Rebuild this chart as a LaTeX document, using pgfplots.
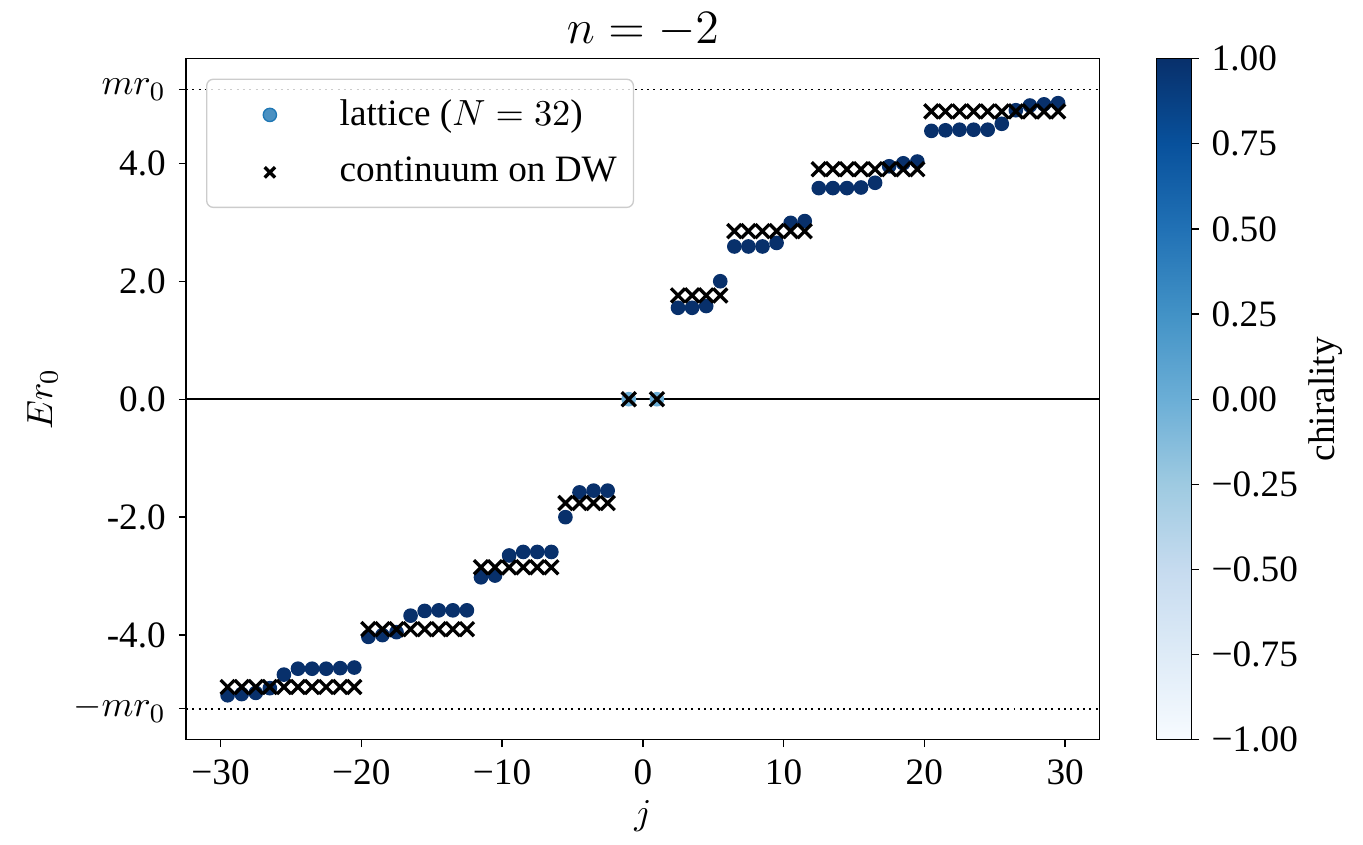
\documentclass[border=0pt]{standalone}
\usepackage{fontspec}
\setmainfont{Liberation Serif}
\usepackage{pgfplots}
\usepackage{pgfplotstable}
\pgfplotsset{compat=1.18}
\definecolor{c0}{HTML}{1F77B4}
\pgfplotsset{
  colormap={blues}{rgb255(0)=(247,251,255) rgb255(1)=(222,235,247) rgb255(2)=(198,219,239)
    rgb255(3)=(158,202,225) rgb255(4)=(107,174,214) rgb255(5)=(66,146,198)
    rgb255(6)=(33,113,181) rgb255(7)=(8,81,156) rgb255(8)=(8,48,107)},
  markleg/.style={legend image code/.code={\path[draw=none, fill=none] (0pt,-2pt) rectangle (35pt,2pt);
    \draw[##1] plot coordinates {(16pt,0pt)};}},
  crossleg/.style={legend image code/.code={\path[draw=none, fill=none] (0pt,-2pt) rectangle (35pt,2pt);
    \draw[##1, mark size=2.2pt] plot coordinates {(16pt,0pt)};}},
}

% lattice spectrum: j, E r0, chirality
\pgfplotstableread{
j E c
-29.5 -5.02 1
-28.5 -5.00 1
-27.5 -4.98 1
-26.5 -4.90 1
-25.5 -4.67 1
-24.5 -4.57 1
-23.5 -4.57 1
-22.5 -4.57 1
-21.5 -4.56 1
-20.5 -4.55 1
-19.5 -4.03 1
-18.5 -4.00 1
-17.5 -3.95 1
-16.5 -3.67 1
-15.5 -3.59 1
-14.5 -3.58 1
-13.5 -3.58 1
-12.5 -3.58 1
-11.5 -3.02 1
-10.5 -2.99 1
-9.5 -2.65 1
-8.5 -2.59 1
-7.5 -2.59 1
-6.5 -2.59 1
-5.5 -2.00 1
-4.5 -1.58 1
-3.5 -1.55 1
-2.5 -1.55 1
-1 0 0
1 0 0
2.5 1.55 1
3.5 1.55 1
4.5 1.58 1
5.5 2.00 1
6.5 2.59 1
7.5 2.59 1
8.5 2.59 1
9.5 2.65 1
10.5 2.99 1
11.5 3.02 1
12.5 3.58 1
13.5 3.58 1
14.5 3.58 1
15.5 3.59 1
16.5 3.67 1
17.5 3.95 1
18.5 4.00 1
19.5 4.03 1
20.5 4.55 1
21.5 4.56 1
22.5 4.57 1
23.5 4.57 1
24.5 4.57 1
25.5 4.67 1
26.5 4.90 1
27.5 4.98 1
28.5 5.00 1
29.5 5.02 1
}\lattice

% continuum spectrum on the domain wall
\pgfplotstableread{
j E
-29.5 -4.88
-28.5 -4.88
-27.5 -4.88
-26.5 -4.88
-25.5 -4.88
-24.5 -4.88
-23.5 -4.88
-22.5 -4.88
-21.5 -4.88
-20.5 -4.88
-19.5 -3.90
-18.5 -3.90
-17.5 -3.90
-16.5 -3.90
-15.5 -3.90
-14.5 -3.90
-13.5 -3.90
-12.5 -3.90
-11.5 -2.85
-10.5 -2.85
-9.5 -2.85
-8.5 -2.85
-7.5 -2.85
-6.5 -2.85
-5.5 -1.76
-4.5 -1.76
-3.5 -1.76
-2.5 -1.76
-1 0
1 0
2.5 1.76
3.5 1.76
4.5 1.76
5.5 1.76
6.5 2.85
7.5 2.85
8.5 2.85
9.5 2.85
10.5 2.85
11.5 2.85
12.5 3.90
13.5 3.90
14.5 3.90
15.5 3.90
16.5 3.90
17.5 3.90
18.5 3.90
19.5 3.90
20.5 4.88
21.5 4.88
22.5 4.88
23.5 4.88
24.5 4.88
25.5 4.88
26.5 4.88
27.5 4.88
28.5 4.88
29.5 4.88
}\continuum

\begin{document}
\fontsize{11.2}{13.4}\selectfont
\begin{tikzpicture}
\begin{axis}[
  scale only axis,
  width=274.8pt, height=204.9pt,
  xmin=-32.45, xmax=32.45, ymin=-5.775, ymax=5.775,
  xtick={-30,-20,...,30},
  xticklabels={−30,−20,−10,0,10,20,30},
  ytick={-5.25,-4,-2,0,2,4,5.25},
  yticklabels={$-mr_0$,-4.0,-2.0,0.0,2.0,4.0,$mr_0$},
  tick align=outside, tick pos=left,
  major tick length=2.2pt,
  tick style={black, line width=0.4pt},
  axis line style={line width=0.4pt},
  title={$n=-2$},
  title style={font=\fontsize{13.4}{16}\selectfont, yshift=-6.5pt},
  xlabel={$j$}, ylabel={$Er_0$},
  xlabel style={yshift=3pt},
  ylabel style={yshift=-3pt},
  colormap name=blues,
  point meta min=-1, point meta max=1,
  colorbar,
  colorbar style={
    at={(parent axis.north east)}, anchor=north west, xshift=17.1pt,
    width=10.5pt,
    ytick={-1,-0.75,-0.5,-0.25,0,0.25,0.5,0.75,1},
    yticklabels={−1.00,−0.75,−0.50,−0.25,0.00,0.25,0.50,0.75,1.00},
    major tick length=2.2pt,
    tick align=outside, ytick pos=right,
    ylabel={chirality},
    ylabel style={yshift=4.5pt},
  },
  colorbar shift/.style={},
  legend style={at={(0,1)}, anchor=north west, xshift=6pt, yshift=-6pt,
    draw=black!20, rounded corners=2pt, fill=white, fill opacity=0.8,
    text opacity=1, row sep=4pt, inner xsep=3pt, inner ysep=4pt},
  legend cell align=left,
]
\addplot[black, dash pattern=on 0.6pt off 1.3pt, line width=0.5pt, forget plot]
  coordinates {(-32.45,5.25) (32.45,5.25)};
\addplot[black, dash pattern=on 0.6pt off 1.3pt, line width=0.5pt, forget plot]
  coordinates {(-32.45,-5.25) (32.45,-5.25)};
\addplot[scatter, only marks, mark=*, mark size=2pt, scatter src=explicit,
  scatter/use mapped color={draw=mapped color, fill=mapped color}, forget plot]
  table[x=j, y=E, meta=c] {\lattice};
\addplot[black, line width=0.6pt, forget plot]
  coordinates {(-32.45,0) (32.45,0)};
\addlegendimage{only marks, mark=*, mark size=2pt, color=c0, markleg}
\addlegendentry{lattice ($N=32$)}
\addplot[only marks, mark=x, mark size=3pt, line width=1pt, black, crossleg]
  table[x=j, y=E] {\continuum};
\addlegendentry{continuum on DW}
\end{axis}
% a little extra margin at the sides, as in the original figure
\path (current bounding box.west) ++(-4.5pt,0pt);
\path (current bounding box.east) ++(2.5pt,0pt);
\end{tikzpicture}
\end{document}
